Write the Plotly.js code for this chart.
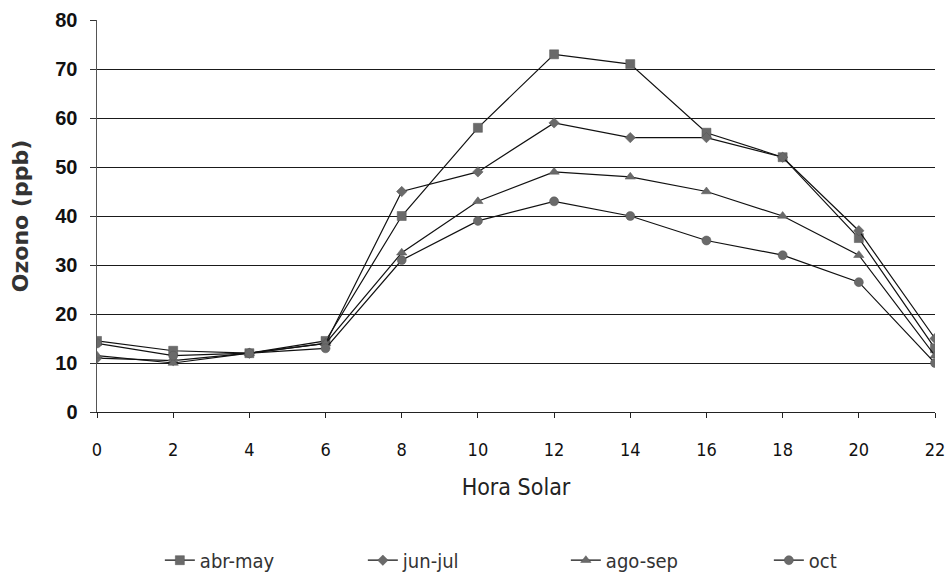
<!DOCTYPE html>
<html>
<head>
<meta charset="utf-8">
<script src="https://cdn.plot.ly/plotly-3.0.1.min.js"></script>
<style>
  html, body { margin: 0; padding: 0; background: #ffffff; }
  #chart { width: 949px; height: 574px; }
</style>
</head>
<body>
<div id="chart"></div>
<script>
// Hourly ozone profile (ppb) by season
const hours = [0, 2, 4, 6, 8, 10, 12, 14, 16, 18, 20, 22];
const abrMay = [14.5, 12.5, 12, 14.5, 40, 58, 73, 71, 57, 52, 35.5, 13];
const junJul = [11, 10.5, 12, 14, 45, 49, 59, 56, 56, 52, 37, 15];
const agoSep = [11.5, 10, 12, 14, 32.5, 43, 49, 48, 45, 40, 32, 11.5];
const oct = [14, 11.5, 12, 13, 31, 39, 43, 40, 35, 32, 26.5, 10];

const seriesNames = ['abr-may', 'jun-jul', 'ago-sep', 'oct'];
const seriesValues = [abrMay, junJul, agoSep, oct];
const symbols = ['square', 'diamond', 'triangle-up', 'circle'];
const markerSizes = [9, 8, 9, 9];

const narrow = '"DejaVu Sans Condensed", "Liberation Sans Narrow", "DejaVu Sans", sans-serif';
const boldSans = '"Liberation Sans", Arial, sans-serif';

const traces = seriesValues.map((vals, i) => ({
  x: hours,
  y: vals,
  name: seriesNames[i],
  type: 'scatter',
  mode: 'lines+markers',
  line: { color: '#111111', width: 1.2 },
  marker: { symbol: symbols[i], size: markerSizes[i], color: '#6a6a6a',
            line: { color: '#555555', width: 0.5 } }
}));

const layout = {
  width: 949,
  height: 574,
  paper_bgcolor: '#ffffff',
  plot_bgcolor: '#ffffff',
  margin: { l: 97, r: 14, t: 20, b: 162, autoexpand: false },
  showlegend: true,
  legend: {
    orientation: 'h',
    x: 0.075, xanchor: 'left',
    y: -0.378, yanchor: 'middle',
    font: { family: narrow, size: 20, color: '#333333' },
    entrywidth: 158,
    entrywidthmode: 'pixels',
    tracegroupgap: 0
  },
  xaxis: {
    range: [0, 22],
    tickmode: 'array',
    tickvals: hours,
    ticktext: hours.map(String),
    ticks: 'outside',
    ticklen: 5,
    tickcolor: '#222222',
    ticklabelstandoff: 16,
    showgrid: false,
    zeroline: false,
    showline: true,
    linecolor: '#222222',
    linewidth: 1,
    tickfont: { family: narrow, size: 18, color: '#111111' },
    title: { text: 'Hora Solar', standoff: 20,
             font: { family: narrow, size: 23, color: '#222222' } }
  },
  yaxis: {
    range: [0, 80],
    dtick: 10,
    ticks: 'outside',
    ticklen: 6,
    tickcolor: '#333333',
    ticklabelstandoff: 8,
    showgrid: true,
    gridcolor: '#1a1a1a',
    gridwidth: 1,
    zeroline: false,
    showline: true,
    linecolor: '#555555',
    linewidth: 1.5,
    tickfont: { family: boldSans, size: 20, color: '#111111', weight: 'bold' },
    title: { text: 'Ozono (ppb)', standoff: 20,
             font: { family: '"DejaVu Sans", sans-serif', size: 22, color: '#333333', weight: 'bold' } }
  }
};

Plotly.newPlot('chart', traces, layout, { displayModeBar: false, staticPlot: true });
</script>
</body>
</html>
